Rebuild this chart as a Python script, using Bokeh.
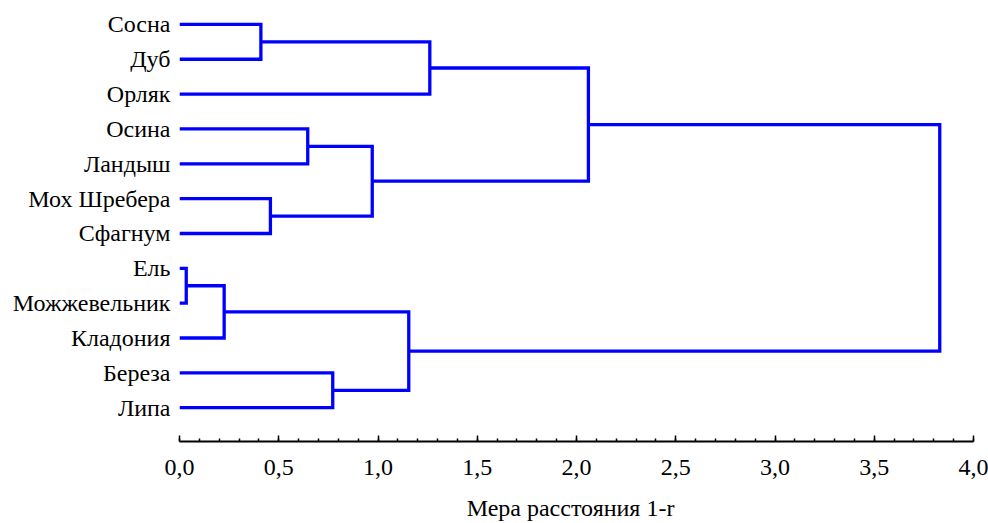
from bokeh.plotting import figure
from bokeh.models import Range1d, SingleIntervalTicker, FixedTicker, CustomJSTickFormatter, ColumnDataSource
from bokeh.embed import file_html
from bokeh.resources import INLINE

# Leaves, top to bottom
leaf_labels = ["Сосна", "Дуб", "Орляк", "Осина", "Ландыш", "Мох Шребера",
               "Сфагнум", "Ель", "Можжевельник", "Кладония", "Береза", "Липа"]

# Merges (indices: 0..11 leaves, 12.. clusters in order of creation)
merge_a = [7, 12, 0, 5, 3, 10, 16, 13, 14, 20, 21]
merge_b = [8, 9, 1, 6, 4, 11, 15, 17, 2, 18, 19]
merge_height = [0.034, 0.225, 0.41, 0.458, 0.646, 0.772, 0.971, 1.155, 1.261, 2.06, 3.83]

axis_title = "Мера  расстояния  1-r"

n = len(leaf_labels)
node_y = [n - i for i in range(n)]
node_h = [0.0] * n
xs, ys = [], []
for a, b, h in zip(merge_a, merge_b, merge_height):
    xs.append([node_h[a], h, h, node_h[b]])
    ys.append([node_y[a], node_y[a], node_y[b], node_y[b]])
    node_y.append((node_y[a] + node_y[b]) / 2)
    node_h.append(h)

src = ColumnDataSource(dict(xs=xs, ys=ys))

FONT = "Liberation Serif"

p = figure(width=988, height=523, x_range=Range1d(0, 4), y_range=Range1d(0.03, 12.457),
           output_backend="svg", toolbar_location=None,
           min_border_left=179, min_border_right=15, min_border_top=8, min_border_bottom=80)
p.outline_line_color = None
p.xgrid.visible = False
p.ygrid.visible = False
p.background_fill_color = "white"
p.border_fill_color = "white"

p.multi_line(xs="xs", ys="ys", source=src, line_color="#0000ff", line_width=3.3,
             line_join="miter", line_cap="butt")

xa = p.xaxis[0]
xa.ticker = SingleIntervalTicker(interval=0.5, num_minor_ticks=5)
xa.formatter = CustomJSTickFormatter(code="return tick.toFixed(1).replace('.', ',');")
xa.axis_line_color = "black"
xa.axis_line_width = 2
xa.major_tick_in = 6
xa.major_tick_out = 0
xa.major_tick_line_width = 1.5
xa.minor_tick_in = 3
xa.minor_tick_out = 0
xa.minor_tick_line_width = 1.5
xa.major_label_text_font = FONT
xa.major_label_text_font_size = "24px"
xa.major_label_text_color = "black"
xa.major_label_standoff = 18
xa.axis_label = axis_title
xa.axis_label_text_font = FONT
xa.axis_label_text_font_size = "24px"
xa.axis_label_text_font_style = "normal"
xa.axis_label_text_color = "black"
xa.axis_label_standoff = 17

ya = p.yaxis[0]
ya.ticker = FixedTicker(ticks=list(range(1, n + 1)))
ya.major_label_overrides = {n - i: lab for i, lab in enumerate(leaf_labels)}
ya.axis_line_color = None
ya.major_tick_line_color = None
ya.minor_tick_line_color = None
ya.major_tick_in = 0
ya.major_tick_out = 0
ya.minor_tick_in = 0
ya.minor_tick_out = 0
ya.major_label_text_font = FONT
ya.major_label_text_font_size = "24px"
ya.major_label_text_color = "black"
ya.major_label_standoff = 9

open("out.html", "w").write(file_html(p, INLINE))
